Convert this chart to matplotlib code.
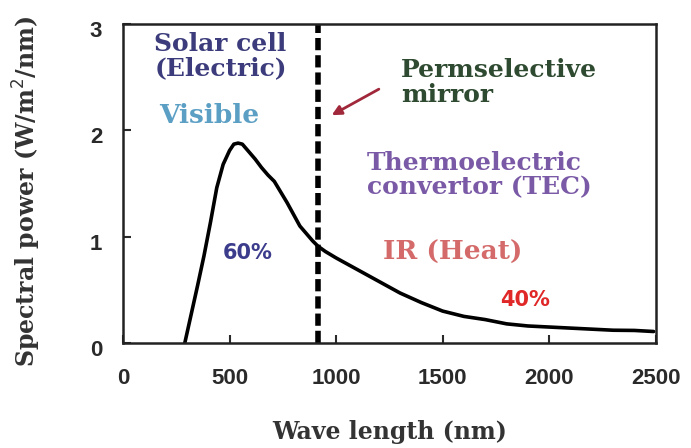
import numpy as np
import matplotlib.pyplot as plt
from matplotlib.transforms import ScaledTranslation

# spectrum
wavelength = [290, 320, 350, 380, 410, 440, 470, 500, 520, 540, 560, 590, 620,
              650, 680, 710, 740, 770, 800, 830, 860, 890, 915, 950, 1000,
              1100, 1200, 1300, 1400, 1500, 1600, 1700, 1800, 1900, 2000,
              2100, 2200, 2300, 2400, 2490]
power = [0.0, 0.27, 0.54, 0.82, 1.13, 1.46, 1.68, 1.81, 1.87, 1.88, 1.87, 1.80,
         1.73, 1.65, 1.58, 1.52, 1.42, 1.32, 1.21, 1.10, 1.03, 0.96, 0.91,
         0.86, 0.80, 0.69, 0.58, 0.47, 0.38, 0.30, 0.25, 0.22, 0.18, 0.16,
         0.15, 0.14, 0.13, 0.12, 0.118, 0.108]
mirror_x = 915
x_ticks = [0, 500, 1000, 1500, 2000, 2500]
y_ticks = [0, 1, 2, 3]

serif = 'DejaVu Serif'
tickfont = 'Liberation Sans'

fig = plt.figure(figsize=(6.91, 4.48), dpi=100)
ax = fig.add_axes([0.178, 0.2344, 0.771, 0.712])

ax.plot(wavelength, power, color='black', lw=2.6, solid_capstyle='round')
ax.axvline(mirror_x, color='black', lw=4, ls=(0, (2.2, 0.9)))

ax.set_xlim(40, 2490)
ax.set_ylim(0, 3)
ax.set_xticks(x_ticks)
ax.set_yticks(y_ticks)
ax.tick_params(direction='in', length=6, width=1.5, labelsize=16,
               colors='#2a2a2a')
ax.tick_params(axis='x', pad=18)
ax.tick_params(axis='y', pad=15)
shift = ScaledTranslation(0, -5 / 100, fig.dpi_scale_trans)
for lab in ax.get_xticklabels() + ax.get_yticklabels():
    lab.set_fontfamily(tickfont)
    lab.set_fontweight('bold')
for lab in ax.get_yticklabels():
    lab.set_transform(lab.get_transform() + shift)
for sp in ax.spines.values():
    sp.set_linewidth(1.8)
    sp.set_color('#222222')

ax.set_xlabel('Wave length (nm)', family=serif, fontsize=17,
              fontweight='bold', color='#333333', va='center')
ax.xaxis.set_label_coords(0.5, -0.279)
ax.set_ylabel('Spectral power (W/m$^2$/nm)', family=serif, fontsize=17,
              fontweight='bold', color='#333333', va='center')
ax.yaxis.set_label_coords(-0.18, 0.475)

ax.text(458, 2.70, 'Solar cell\n(Electric)', family=serif, fontsize=18,
        fontweight='bold', color='#3c3c7c', ha='center', va='center',
        linespacing=1.0)
ax.text(403, 2.14, 'Visible', family=serif, fontsize=19, fontweight='bold',
        color='#5b9fc4', ha='center', va='center')
ax.text(587, 0.85, '60%', family='DejaVu Sans', fontsize=15,
        fontweight='bold', color='#3c3c8c', ha='center', va='center')
ax.text(1304, 2.45, 'Permselective\nmirror', family=serif, fontsize=18,
        fontweight='bold', color='#2e4a30', ha='left', va='center',
        linespacing=1.1)
ax.text(1143, 1.58, 'Thermoelectric\nconvertor (TEC)', family=serif,
        fontsize=18, fontweight='bold', color='#7a5aa6', ha='left',
        va='center', linespacing=1.0)
ax.text(1547, 0.85, 'IR (Heat)', family=serif, fontsize=19,
        fontweight='bold', color='#d46a6a', ha='center', va='center')
ax.text(1887, 0.40, '40%', family='DejaVu Sans', fontsize=15,
        fontweight='bold', color='#e02828', ha='center', va='center')
ax.annotate('', xy=(968, 2.13), xytext=(1212, 2.40),
            arrowprops=dict(arrowstyle='-|>', color='#a0283a', lw=2,
                            mutation_scale=14))

fig.savefig('out.png', dpi=100)
